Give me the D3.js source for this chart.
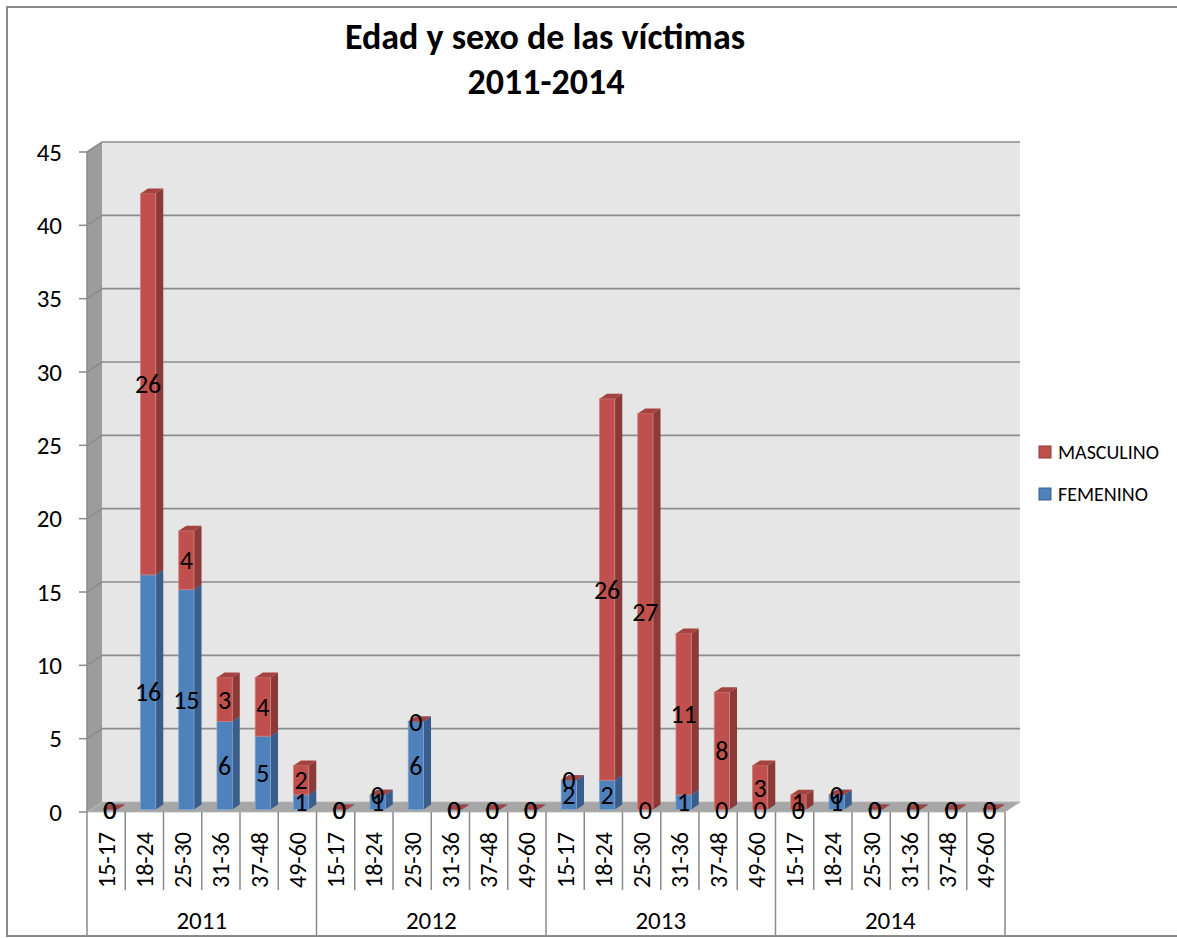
<!DOCTYPE html>
<html>
<head>
<meta charset="utf-8">
<script src="https://cdn.jsdelivr.net/npm/d3@7/dist/d3.min.js"></script>
<style>
  html, body { margin: 0; padding: 0; background: #fff; }
  svg { display: block; font-family: Calibri, Carlito, Lato, sans-serif; }
</style>
</head>
<body>
<svg id="chart" width="1177" height="938"></svg>
<script>
// values
const years = ["2011", "2012", "2013", "2014"];
const ageGroups = ["15-17", "18-24", "25-30", "31-36", "37-48", "49-60"];
const femenino = [0, 16, 15, 6, 5, 1,   0, 1, 6, 0, 0, 0,   2, 2, 0, 1, 0, 0,   0, 1, 0, 0, 0, 0];
const masculino = [0, 26, 4, 3, 4, 2,   0, 0, 0, 0, 0, 0,   0, 26, 27, 11, 8, 3,   1, 0, 0, 0, 0, 0];
const yTicks = [0, 5, 10, 15, 20, 25, 30, 35, 40, 45];
const seriesNames = ["MASCULINO", "FEMENINO"];

const svg = d3.select("#chart");

// 3d look: floor depth and bar depth
const depthX = 15, depthY = -10;
const plotLeft = 87, plotRight = 1005;

var categories = [];
years.forEach(y => ageGroups.forEach(a => categories.push(y + "|" + a)));

const x = d3.scaleBand().domain(categories).range([plotLeft, plotRight]).padding(0);
const yScale = d3.scaleLinear().domain([0, 45]).range([812, 152]);

const colors = {
  MASCULINO: { front: "#C0504D", side: "#8C3A38", top: "#A3423F", edge: "#D2807E" },
  FEMENINO: { front: "#4F81BD", side: "#395E8B", top: "#4A74A8", edge: "#7FA3D0" }
};

// outer border
svg.append("rect")
  .attr("x", 7).attr("y", 7).attr("width", 1200).attr("height", 929)
  .attr("fill", "none").attr("stroke", "#8a8a8a").attr("stroke-width", 2);

// title
svg.append("text").attr("x", 545).attr("y", 49).attr("text-anchor", "middle")
  .attr("font-size", 36).attr("font-weight", "bold").text("Edad y sexo de las víctimas");
svg.append("text").attr("x", 546).attr("y", 94).attr("text-anchor", "middle")
  .attr("font-size", 36).attr("font-weight", "bold").text("2011-2014");

// walls
const y0 = yScale(0), yTop = yScale(45);
svg.append("path")
  .attr("d", `M${plotLeft + depthX},${y0 + depthY}L${plotLeft + depthX},${yTop + depthY}L${plotRight + depthX},${yTop + depthY}L${plotRight + depthX},${y0 + depthY}Z`)
  .attr("fill", "#e6e6e6");
svg.append("path")
  .attr("d", `M${plotLeft},${y0}L${plotLeft},${yTop}L${plotLeft + depthX},${yTop + depthY}L${plotLeft + depthX},${y0 + depthY}Z`)
  .attr("fill", "#9c9c9c");

// gridlines (back wall + side wall)
yTicks.filter(t => t > 0).forEach(t => {
  let yy = yScale(t);
  svg.append("path")
    .attr("d", `M${plotLeft},${yy}L${plotLeft + depthX},${yy + depthY}L${plotRight + depthX},${yy + depthY}`)
    .attr("fill", "none").attr("stroke", "#8c8c8c").attr("stroke-width", 1.6);
});

// floor
svg.append("path")
  .attr("d", `M${plotLeft},${y0}L${plotRight},${y0}L${plotRight + depthX},${y0 + depthY}L${plotLeft + depthX},${y0 + depthY}Z`)
  .attr("fill", "#a6a6a6").attr("stroke", "#b5b5b5").attr("stroke-width", 0.8);

// y axis
svg.append("line").attr("x1", plotLeft).attr("x2", plotLeft).attr("y1", y0).attr("y2", yTop)
  .attr("stroke", "#8a8a8a").attr("stroke-width", 1.5);
const yAxis = svg.append("g");
yTicks.forEach(t => {
  yAxis.append("line").attr("x1", 79).attr("x2", plotLeft).attr("y1", yScale(t)).attr("y2", yScale(t))
    .attr("stroke", "#8a8a8a").attr("stroke-width", 1.5);
  yAxis.append("text").attr("x", 62).attr("y", yScale(t)).attr("text-anchor", "end")
    .attr("dominant-baseline", "central").attr("font-size", 25).text(t);
});

// bars
const bw = x.bandwidth() * 0.4;
const bdx = depthX / 2, bdy = depthY / 2;
const offX = depthX / 4, offY = depthY / 4;

function drawBox(g, left, yA, yB, c, isZero) {
  let right = left + bw;
  if (!isZero) {
    g.append("path")
      .attr("d", `M${right},${yB}L${right + bdx},${yB + bdy}L${right + bdx},${yA + bdy}L${right},${yA}Z`)
      .attr("fill", c.side);
    g.append("rect").attr("x", left).attr("y", yB).attr("width", bw).attr("height", yA - yB)
      .attr("fill", c.front).attr("stroke", c.edge).attr("stroke-width", 0.8);
  }
  g.append("path")
    .attr("d", `M${left},${yB}L${right},${yB}L${right + bdx},${yB + bdy}L${left + bdx},${yB + bdy}Z`)
    .attr("fill", c.top);
}

const barsG = svg.append("g");
const labels = [];
categories.forEach((cat, i) => {
  let cx = x(cat) + x.bandwidth() / 2 + offX;
  let left = cx - bw / 2;
  let f = femenino[i], m = masculino[i];
  let yF0 = yScale(0) + offY, yF1 = yScale(f) + offY, yM1 = yScale(f + m) + offY;
  drawBox(barsG, left, yF0, yF1, colors.FEMENINO, f === 0);
  drawBox(barsG, left, yF1, yM1, colors.MASCULINO, m === 0);
  labels.push({ x: cx, y: (yF0 + yF1) / 2, v: f });
  labels.push({ x: cx, y: (yF1 + yM1) / 2, v: m });
});

svg.append("g").selectAll("text").data(labels).join("text")
  .attr("x", d => d.x).attr("y", d => d.y)
  .attr("text-anchor", "middle").attr("dominant-baseline", "central")
  .attr("font-size", 26).text(d => d.v);

// category axis table
const axisG = svg.append("g");
categories.forEach((cat, i) => {
  let xl = x(cat);
  let yearStart = i % ageGroups.length === 0;
  axisG.append("line").attr("x1", xl).attr("x2", xl).attr("y1", y0).attr("y2", yearStart ? 936 : 890)
    .attr("stroke", "#8a8a8a").attr("stroke-width", 1.5);
  axisG.append("text")
    .attr("transform", `translate(${xl + x.bandwidth() / 2},888) rotate(-90)`)
    .attr("dominant-baseline", "central").attr("font-size", 24)
    .text(cat.split("|")[1]);
});
axisG.append("line").attr("x1", plotRight).attr("x2", plotRight).attr("y1", y0).attr("y2", 936)
  .attr("stroke", "#8a8a8a").attr("stroke-width", 1.5);
years.forEach((yr, j) => {
  let xs = x(yr + "|" + ageGroups[0]);
  let xe = x(yr + "|" + ageGroups[ageGroups.length - 1]) + x.bandwidth();
  axisG.append("text").attr("x", (xs + xe) / 2).attr("y", 929).attr("text-anchor", "middle")
    .attr("font-size", 25).text(yr);
});

// legend
const legend = svg.append("g");
seriesNames.forEach((s, i) => {
  let ly = 446 + i * 42;
  legend.append("rect").attr("x", 1039).attr("y", ly).attr("width", 12).attr("height", 12)
    .attr("fill", colors[s].front).attr("stroke", colors[s].side).attr("stroke-width", 1);
  legend.append("text").attr("x", 1058).attr("y", ly + 6).attr("dominant-baseline", "central")
    .attr("font-size", 20).text(s);
});
</script>
</body>
</html>
